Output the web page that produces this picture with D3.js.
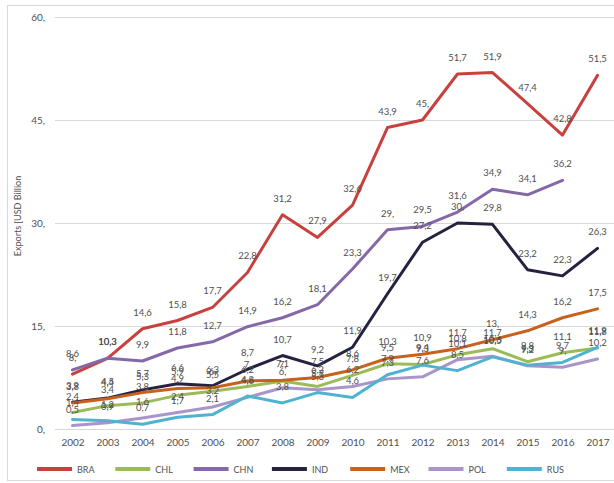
<!DOCTYPE html>
<html>
<head>
<meta charset="utf-8">
<script src="https://cdn.jsdelivr.net/npm/d3@7"></script>
<style>
  html, body { margin: 0; padding: 0; background: #fff; }
  svg { display: block; }
  text { font-family: Lato, "Open Sans", sans-serif; fill: #505050; }
</style>
</head>
<body>
<svg id="chart" width="614" height="483"></svg>
<script>
// Export values per country, USD billion, 2002–2017
const years = ["2002","2003","2004","2005","2006","2007","2008","2009","2010","2011","2012","2013","2014","2015","2016","2017"];
const BRA = [8, 10.3, 14.6, 15.8, 17.7, 22.8, 31.2, 27.9, 32.6, 43.9, 45, 51.7, 51.9, 47.4, 42.8, 51.5];
const CHL = [2.4, 3.4, 3.8, 4.9, 5.5, 6.2, 7, 6.2, 7.8, 9.5, 9.4, 10.8, 11.7, 9.8, 11.1, 11.8];
const CHN = [8.6, 10.3, 9.9, 11.8, 12.7, 14.9, 16.2, 18.1, 23.3, 29, 29.5, 31.6, 34.9, 34.1, 36.2, null];
const IND = [3.9, 4.5, 5.7, 6.6, 6.3, 8.7, 10.7, 9.2, 11.9, 19.7, 27.2, 30, 29.8, 23.2, 22.3, 26.3];
const MEX = [3.8, 4.4, 5.3, 5.9, 6, 7, 7.1, 7.5, 8.6, 10.3, 10.9, 11.7, 13, 14.3, 16.2, 17.5];
const POL = [0.5, 0.9, 1.6, 2.4, 3.2, 4.6, 6, 5.7, 6.2, 7.3, 7.6, 10.1, 10.6, 9.2, 9, 10.2];
const RUS = [1.4, 1.2, 0.7, 1.7, 2.1, 4.8, 3.8, 5.3, 4.6, 7.9, 9.3, 8.5, 10.5, 9.3, 9.7, 11.9];
const seriesNames = ["BRA", "CHL", "CHN", "IND", "MEX", "POL", "RUS"];
const seriesValues = [BRA, CHL, CHN, IND, MEX, POL, RUS];
const seriesColors = ["#c8413f", "#9bbb59", "#8468a8", "#25213f", "#c9601c", "#a995c9", "#4fb3cf"];
const yTicks = [0, 15, 30, 45, 60];
const yTitle = "Exports [USD Billion";

const series = seriesNames.map((name, i) => ({
  name,
  color: seriesColors[i],
  points: years.map((y, j) => ({ year: y, value: seriesValues[i][j] }))
}));

// Decimal comma; whole numbers keep a trailing comma
const fmt = v => Number.isInteger(v) ? v + "," : String(v).replace(".", ",");

const svg = d3.select("#chart");

// Outer frame
svg.append("rect")
  .attr("x", 7.5).attr("y", 5.5)
  .attr("width", 620).attr("height", 475)
  .attr("fill", "none").attr("stroke", "#d9d9d9").attr("stroke-width", 1);

const x = d3.scalePoint().domain(years).range([55, 615]).padding(0.5);
const y = d3.scaleLinear().domain([0, 60]).range([429, 17]);

// Horizontal gridlines
svg.append("g")
  .selectAll("line")
  .data(yTicks)
  .join("line")
  .attr("x1", 55).attr("x2", 614)
  .attr("y1", d => Math.round(y(d)) + 0.5)
  .attr("y2", d => Math.round(y(d)) + 0.5)
  .attr("stroke", "#d9d9d9").attr("stroke-width", 1);

// Y axis tick labels
const yAxis = d3.axisLeft(y).tickValues(yTicks).tickFormat(fmt).tickSize(0).tickPadding(0);
svg.append("g")
  .attr("transform", "translate(45,0)")
  .call(yAxis)
  .call(g => g.select(".domain").remove())
  .call(g => g.selectAll("text")
    .attr("font-size", 10)
    .attr("font-family", "Lato, 'Open Sans', sans-serif")
    .attr("fill", "#505050"));

// X axis labels
const xAxis = d3.axisBottom(x).tickSize(0).tickPadding(0);
svg.append("g")
  .attr("transform", "translate(0,439)")
  .call(xAxis)
  .call(g => g.select(".domain").remove())
  .call(g => g.selectAll("text")
    .attr("font-size", 10)
    .attr("font-family", "Lato, 'Open Sans', sans-serif")
    .attr("fill", "#505050"));

// Y axis title
svg.append("text")
  .attr("transform", "translate(21,216) rotate(-90)")
  .attr("text-anchor", "middle")
  .attr("font-size", 9)
  .text(yTitle);

// Series lines
const line = d3.line()
  .defined(d => d.value !== null)
  .x(d => x(d.year))
  .y(d => y(d.value));

svg.append("g")
  .selectAll("path")
  .data(series)
  .join("path")
  .attr("d", d => line(d.points))
  .attr("fill", "none")
  .attr("stroke", d => d.color)
  .attr("stroke-width", 3)
  .attr("stroke-linejoin", "round")
  .attr("stroke-linecap", "round");

// Value labels above each point
const labels = svg.append("g");
series.forEach(s => {
  labels.selectAll(null)
    .data(s.points.filter(p => p.value !== null))
    .join("text")
    .attr("x", p => x(p.year))
    .attr("y", p => y(p.value) - 13)
    .attr("text-anchor", "middle")
    .attr("font-size", 9.5)
    .text(p => fmt(p.value));
});

// Legend
const legend = svg.append("g").attr("transform", "translate(0,469)");
const entry = legend.selectAll("g")
  .data(series)
  .join("g")
  .attr("transform", (d, i) => `translate(${37 + i * 78.3},0)`);
entry.append("line")
  .attr("x1", 0).attr("x2", 35)
  .attr("y1", 0).attr("y2", 0)
  .attr("stroke", d => d.color)
  .attr("stroke-width", 4);
entry.append("text")
  .attr("x", 40).attr("y", 3.5)
  .attr("font-size", 9)
  .text(d => d.name);
</script>
</body>
</html>
